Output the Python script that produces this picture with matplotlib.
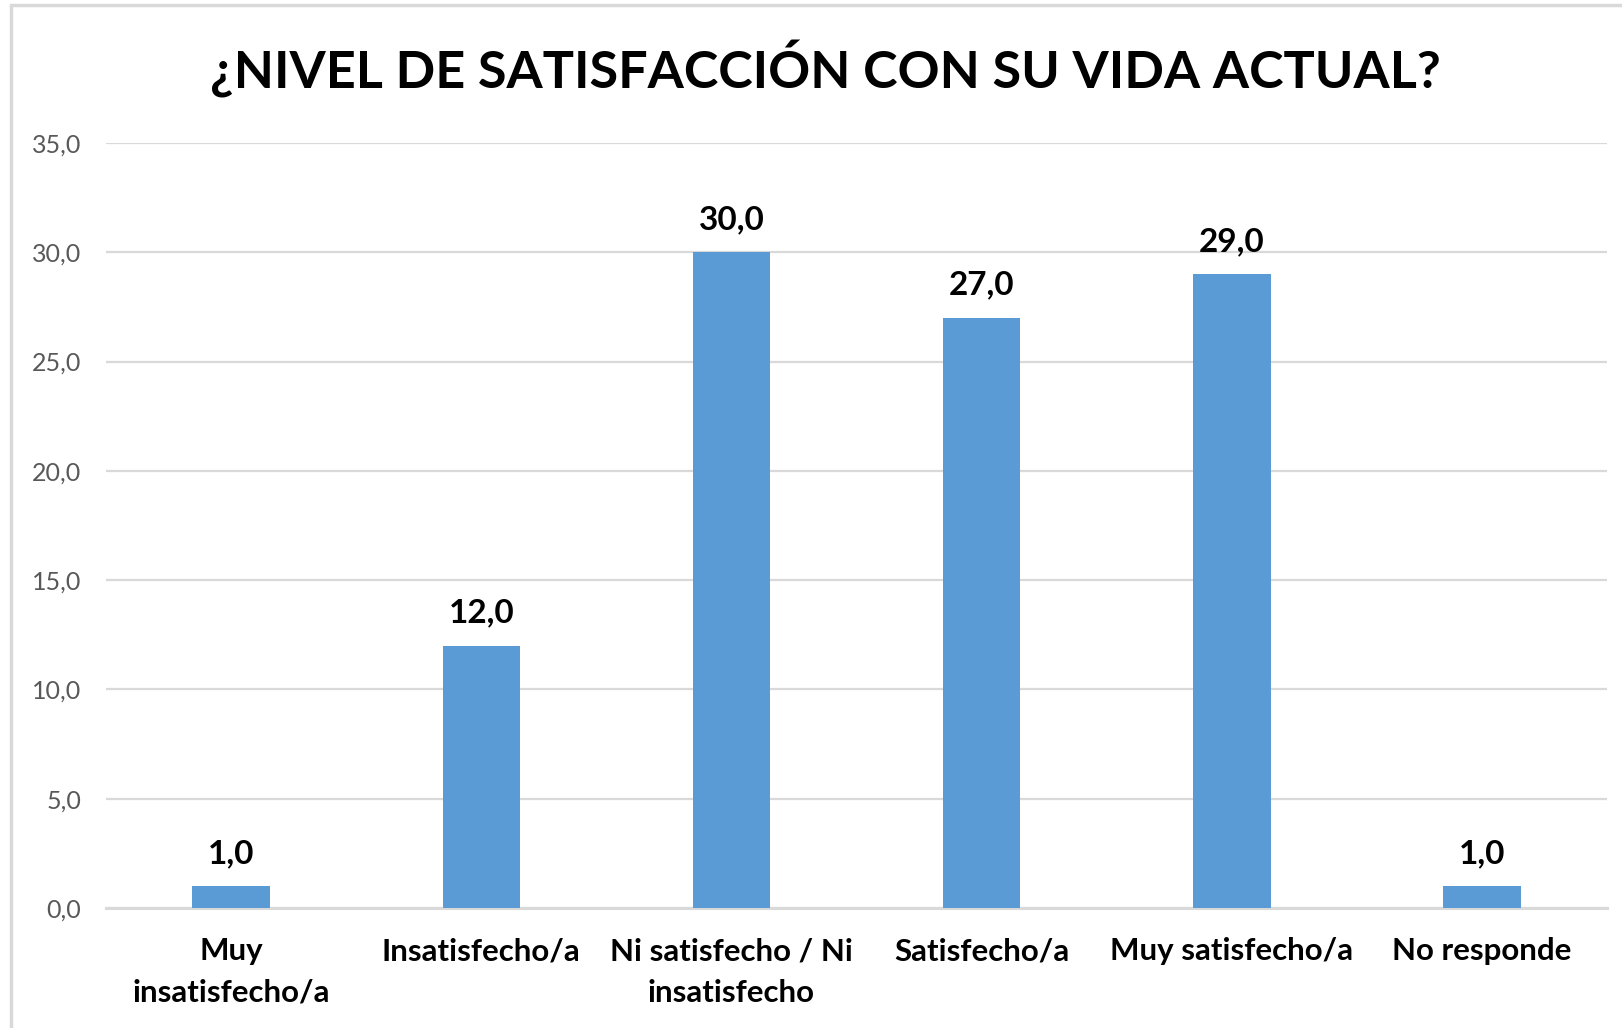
import matplotlib.pyplot as plt
from matplotlib.patches import Rectangle

# ---- data ----
categorias = ["Muy\ninsatisfecho/a", "Insatisfecho/a", "Ni satisfecho / Ni\ninsatisfecho",
              "Satisfecho/a", "Muy satisfecho/a", "No responde"]
valores = [1.0, 12.0, 30.0, 27.0, 29.0, 1.0]
y_ticks = [0, 5, 10, 15, 20, 25, 30, 35]
titulo = "¿NIVEL DE SATISFACCIÓN CON SU VIDA ACTUAL?"

plt.rcParams['font.family'] = ['Lato', 'DejaVu Sans']

fig = plt.figure(figsize=(16.22, 10.28), dpi=100)
ax = fig.add_axes([0.0654, 0.1167, 0.9254, 0.7443])

# outer chart frame (cut off on right and bottom like the screenshot)
fig.patches.append(Rectangle((11 / 1622, -0.1), 2.0, 1 - 5 / 1028 + 0.1,
                             transform=fig.transFigure, fill=False,
                             edgecolor='#d9d9d9', linewidth=2.5))

x = range(len(categorias))
bars = ax.bar(x, valores, width=0.31, color='#5b9bd5', zorder=3)

for xi, v in zip(x, valores):
    ax.annotate(f"{v:.1f}".replace('.', ','), (xi, v), xytext=(0, 13),
                textcoords='offset points', ha='center', va='bottom',
                fontsize=24, fontweight='bold', color='#000000')

ax.set_xlim(-0.5, len(categorias) - 0.5)
ax.set_ylim(0, 35)
ax.set_yticks(y_ticks)
ax.set_yticklabels([f"{t:.1f}".replace('.', ',') for t in y_ticks],
                   fontsize=18, color='#595959')
ax.set_xticks(list(x))
ax.set_xticklabels(categorias, fontsize=22.5, fontweight='bold', color='#000000',
                   linespacing=1.6)
ax.tick_params(axis='both', length=0)
ax.tick_params(axis='y', pad=18)
ax.tick_params(axis='x', pad=21)

ax.grid(axis='y', color='#d9d9d9', linewidth=1.6, zorder=0)
for s in ['top', 'right', 'left']:
    ax.spines[s].set_visible(False)
ax.spines['bottom'].set_color('#d9d9d9')
ax.spines['bottom'].set_linewidth(2.2)

fig.text(0.509, 0.933, titulo, ha='center', va='center',
         fontsize=37.5, fontweight='bold', color='#000000')

fig.savefig('out.png', dpi=100)
